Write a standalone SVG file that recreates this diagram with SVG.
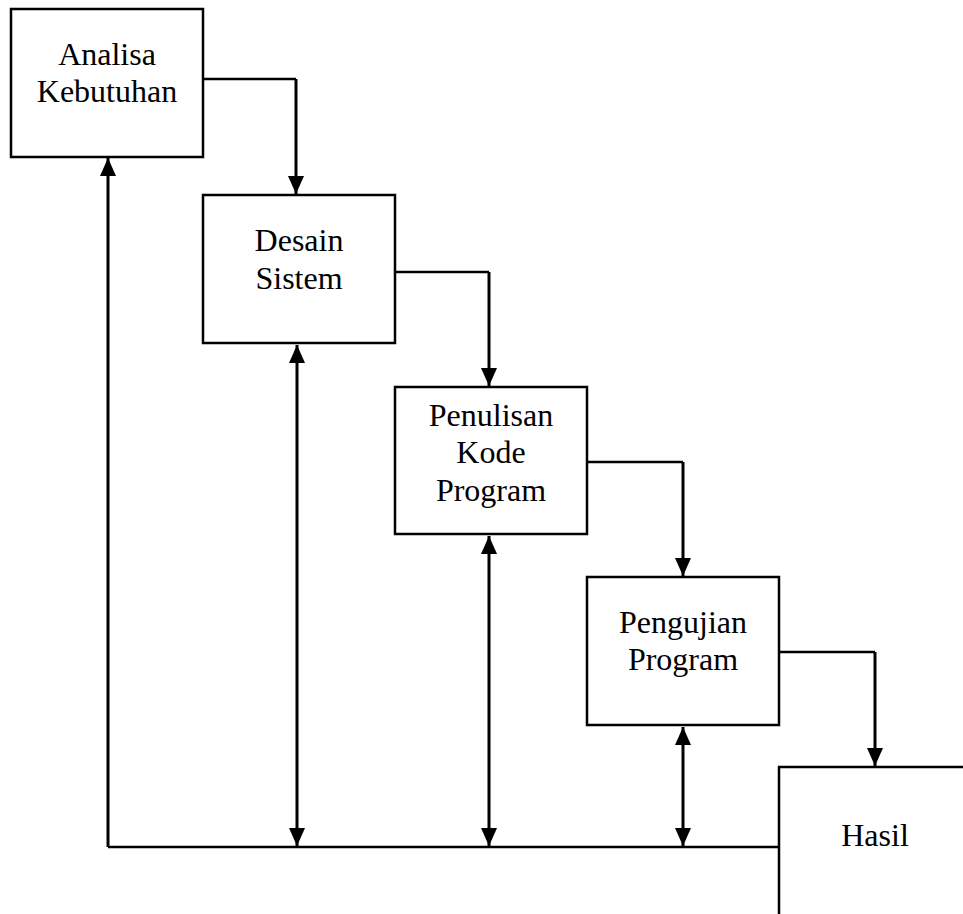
<svg xmlns="http://www.w3.org/2000/svg" width="963" height="914" viewBox="0 0 963 914">
<style>
.box{fill:#fff;stroke:#000;stroke-width:2.5}
.lbl{font-family:"Liberation Serif","Times New Roman",serif;font-size:32px;fill:#000;text-anchor:middle}
.ln{fill:none;stroke:#000;stroke-width:2.5}
.st{fill:none;stroke:#000;stroke-width:3}
.arr{marker-end:url(#ah)}
.darr{marker-start:url(#ahs);marker-end:url(#ah)}
</style>
<defs>
<marker id="ah" markerUnits="userSpaceOnUse" markerWidth="18" markerHeight="16" viewBox="0 0 18 16" refX="18" refY="8" orient="auto">
<path d="M0,0 L18,8 L0,16 Z" fill="#000"/>
</marker>
<marker id="ahs" markerUnits="userSpaceOnUse" markerWidth="18" markerHeight="16" viewBox="0 0 18 16" refX="0" refY="8" orient="auto">
<path d="M18,0 L0,8 L18,16 Z" fill="#000"/>
</marker>
</defs>
<rect x="0" y="0" width="963" height="914" fill="#fff"/>
<g id="connectors">
<path class="ln" d="M203,79 H296"/>
<path class="st arr" d="M296,79 V194"/>
<path class="ln" d="M395,272 H489"/>
<path class="st arr" d="M489,272 V386"/>
<path class="ln" d="M587,462 H683"/>
<path class="st arr" d="M683,462 V576"/>
<path class="ln" d="M779,652 H875"/>
<path class="st arr" d="M875,652 V766"/>
<path class="ln" d="M108,847 H779"/>
<path class="st arr" d="M108,847 V158"/>
<path class="st darr" d="M297,345 V846"/>
<path class="st darr" d="M489,536 V846"/>
<path class="st darr" d="M683,727 V846"/>
</g>
<g id="analisa">
<rect class="box" x="11" y="9" width="192" height="148"/>
<text class="lbl" x="107" y="65">Analisa</text>
<text class="lbl" x="107" y="102">Kebutuhan</text>
</g>
<g id="desain">
<rect class="box" x="203" y="195" width="192" height="148"/>
<text class="lbl" x="299" y="251">Desain</text>
<text class="lbl" x="299" y="289">Sistem</text>
</g>
<g id="penulisan">
<rect class="box" x="395" y="387" width="192" height="147"/>
<text class="lbl" x="491" y="426">Penulisan</text>
<text class="lbl" x="491" y="463">Kode</text>
<text class="lbl" x="491" y="501">Program</text>
</g>
<g id="pengujian">
<rect class="box" x="587" y="577" width="192" height="148"/>
<text class="lbl" x="683" y="633">Pengujian</text>
<text class="lbl" x="683" y="670">Program</text>
</g>
<g id="hasil">
<rect class="box" x="779" y="767" width="220" height="200"/>
<text class="lbl" x="875" y="846">Hasil</text>
</g>
</svg>
